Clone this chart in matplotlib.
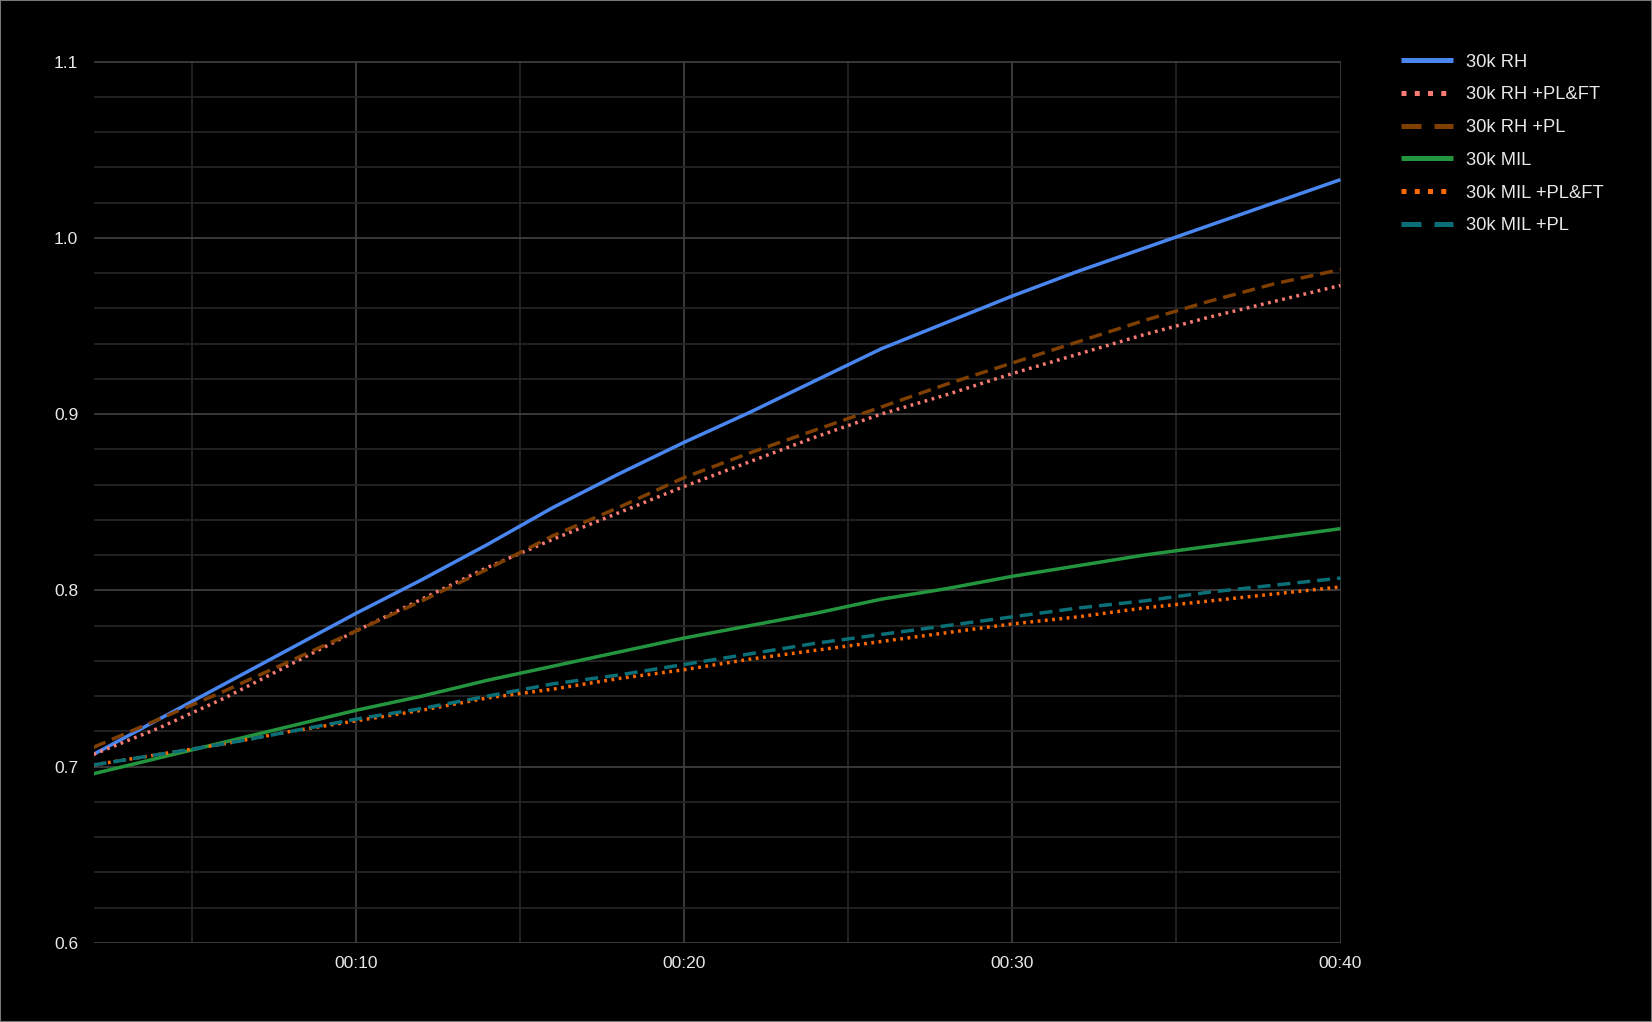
import numpy as np
import matplotlib
matplotlib.use('Agg')
import matplotlib.pyplot as plt
from matplotlib.ticker import MultipleLocator, FuncFormatter
from matplotlib.lines import Line2D
from matplotlib.patches import Rectangle

plt.rcParams['font.family'] = ['Liberation Sans', 'DejaVu Sans']

# seconds
t = [2, 4, 6, 8, 10, 12, 14, 16, 18, 20, 22, 24, 26, 28, 30, 32, 34, 36, 38, 40]

rh = [0.707, 0.727, 0.747, 0.767, 0.787, 0.806, 0.826, 0.847, 0.866, 0.884,
      0.901, 0.919, 0.937, 0.952, 0.967, 0.981, 0.994, 1.007, 1.020, 1.033]
rh_plft = [0.707, 0.722, 0.739, 0.758, 0.777, 0.795, 0.813, 0.829, 0.844, 0.859,
           0.873, 0.887, 0.900, 0.911, 0.923, 0.934, 0.945, 0.955, 0.964, 0.973]
rh_pl = [0.711, 0.727, 0.743, 0.760, 0.777, 0.794, 0.812, 0.831, 0.847, 0.864,
         0.878, 0.891, 0.904, 0.917, 0.929, 0.941, 0.953, 0.964, 0.974, 0.982]
mil = [0.696, 0.705, 0.714, 0.723, 0.732, 0.740, 0.749, 0.757, 0.765, 0.773,
       0.780, 0.787, 0.795, 0.801, 0.808, 0.814, 0.820, 0.825, 0.830, 0.835]
mil_plft = [0.701, 0.707, 0.713, 0.720, 0.726, 0.732, 0.739, 0.744, 0.750, 0.755,
            0.761, 0.766, 0.771, 0.776, 0.781, 0.785, 0.790, 0.794, 0.798, 0.802]
mil_pl = [0.701, 0.707, 0.713, 0.720, 0.727, 0.733, 0.740, 0.747, 0.752, 0.758,
          0.764, 0.770, 0.775, 0.780, 0.785, 0.790, 0.794, 0.799, 0.803, 0.807]

labels = ['30k RH', '30k RH +PL&FT', '30k RH +PL', '30k MIL', '30k MIL +PL&FT', '30k MIL +PL']
colors = ['#4a86f0', '#f77b72', '#7f3f00', '#24953f', '#ff6a00', '#0b6f78']
styles = ['solid', 'dot', 'dash', 'solid', 'dot', 'dash']
series = [rh, rh_plft, rh_pl, mil, mil_plft, mil_pl]

fig = plt.figure(figsize=(16.52, 10.22), dpi=100, facecolor='black')
ax = fig.add_axes([93.5/1652, 1-943/1022, (1340.5-93.5)/1652, (943-61.5)/1022])
ax.set_facecolor('black')

lw = 2.5
handles = []
for y, c, s, lab in zip(series, colors, styles, labels):
    if s == 'solid':
        ax.plot(t, y, color=c, lw=lw, solid_capstyle='butt', zorder=3)
        h = Line2D([], [], color=c, lw=3.6, solid_capstyle='butt')
    elif s == 'dot':
        ax.plot(t, y, color=c, lw=lw, dashes=(0.8, 1.3), zorder=3)
        h = Line2D([], [], color=c, lw=3.6, dashes=(1, 1.65))
    else:
        ax.plot(t, y, color=c, lw=lw, dashes=(3.75, 2.0), zorder=3)
        h = Line2D([], [], color=c, lw=3.6, dashes=(4.0, 2.6))
    handles.append(h)

ax.set_xlim(2, 40)
ax.set_ylim(0.6, 1.1)
ax.xaxis.set_major_locator(MultipleLocator(10))
ax.xaxis.set_minor_locator(MultipleLocator(5))
ax.yaxis.set_major_locator(MultipleLocator(0.1))
ax.yaxis.set_minor_locator(MultipleLocator(0.02))
ax.xaxis.set_major_formatter(FuncFormatter(lambda v, p: '00:%02d' % int(v)))
ax.yaxis.set_major_formatter(FuncFormatter(lambda v, p: '%.1f' % v))

ax.grid(which='major', color='#3d3d3d', lw=1.3, zorder=0)
ax.grid(which='minor', color='#242424', lw=1.3, zorder=0)
for sp in ax.spines.values():
    sp.set_visible(False)
ax.tick_params(which='both', length=0, colors='#e8e8e8', labelsize=12.5)
ax.tick_params(axis='x', pad=9)
ax.tick_params(axis='y', pad=11)

fig.legend(handles, labels, loc='upper left', bbox_to_anchor=(1401/1652, 1-53.5/1022),
           frameon=False, fontsize=13.2, labelcolor='#e8e8e8', handlelength=2.85,
           handletextpad=0.7, labelspacing=0.86, borderpad=0, borderaxespad=0)

fig.patches.append(Rectangle((0, 0), 1, 1, transform=fig.transFigure, fill=False,
                             edgecolor='#777777', lw=1.5))

fig.savefig('out.png', dpi=100, facecolor='black')
